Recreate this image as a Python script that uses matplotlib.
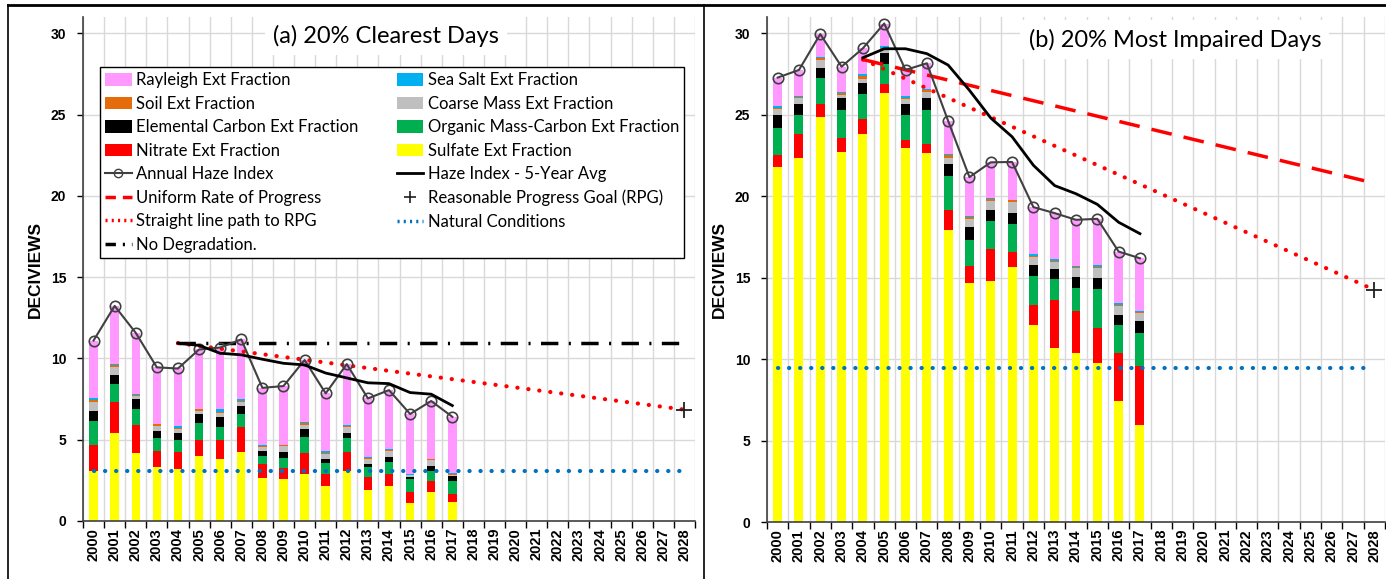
import matplotlib
matplotlib.use("Agg")
import matplotlib.pyplot as plt
from matplotlib.lines import Line2D
from matplotlib.patches import Patch

# Data
years = list(range(2000, 2018))
all_years = list(range(2000, 2029))

# (a) 20% clearest days - extinction fractions in deciviews
clear_sulfate = [3.07, 5.39, 4.16, 3.30, 3.18, 4.00, 3.81, 4.22, 2.62, 2.56, 2.89, 2.15, 3.07, 1.90, 2.15, 1.13, 1.80, 1.19]
clear_nitrate = [1.60, 1.94, 1.74, 1.02, 1.06, 0.98, 1.17, 1.58, 0.88, 0.68, 1.27, 0.74, 1.15, 0.82, 0.74, 0.67, 0.68, 0.47]
clear_omc = [1.46, 1.07, 0.98, 0.76, 0.74, 1.02, 0.82, 0.76, 0.50, 0.65, 0.98, 0.65, 0.86, 0.58, 0.76, 0.76, 0.61, 0.82]
clear_ec = [0.65, 0.60, 0.62, 0.47, 0.45, 0.58, 0.57, 0.53, 0.32, 0.37, 0.49, 0.27, 0.35, 0.20, 0.26, 0.16, 0.29, 0.29]
clear_coarse = [0.55, 0.47, 0.20, 0.32, 0.20, 0.21, 0.27, 0.21, 0.26, 0.36, 0.30, 0.30, 0.36, 0.29, 0.40, 0.08, 0.35, 0.09]
clear_soil = [0.10, 0.10, 0.08, 0.07, 0.07, 0.07, 0.08, 0.08, 0.05, 0.05, 0.07, 0.05, 0.07, 0.06, 0.05, 0.04, 0.06, 0.04]
clear_seasalt = [0.11, 0.08, 0.04, 0.03, 0.14, 0.04, 0.14, 0.10, 0.03, 0.03, 0.10, 0.14, 0.04, 0.10, 0.04, 0.03, 0.04, 0.03]
clear_rayleigh = [3.56, 3.58, 3.75, 3.48, 3.54, 3.65, 3.81, 3.69, 3.53, 3.60, 3.80, 3.55, 3.75, 3.59, 3.65, 3.71, 3.55, 3.48]
clear_haze = [11.10, 13.23, 11.57, 9.45, 9.38, 10.55, 10.67, 11.17, 8.19, 8.30, 9.90, 7.85, 9.65, 7.54, 8.05, 6.58, 7.38, 6.41]
clear_avg_years = list(range(2004, 2018))
clear_avg = [10.94, 10.80, 10.32, 10.22, 9.95, 9.70, 9.60, 9.10, 8.80, 8.50, 8.45, 7.90, 7.80, 7.10]
clear_baseline = 10.94
clear_rpg = 6.85
clear_natural = 3.07

# (b) 20% most impaired days
imp_sulfate = [21.78, 22.37, 24.89, 22.74, 23.80, 26.32, 22.94, 22.63, 17.93, 14.70, 14.80, 15.65, 12.10, 10.66, 10.39, 9.79, 7.41, 5.96]
imp_nitrate = [0.75, 1.43, 0.75, 0.82, 0.94, 0.57, 0.51, 0.56, 1.23, 1.04, 1.95, 0.90, 1.24, 2.94, 2.54, 2.14, 2.98, 3.60]
imp_omc = [1.68, 1.19, 1.60, 1.74, 1.52, 1.21, 1.54, 2.11, 2.10, 1.58, 1.75, 1.77, 1.75, 1.29, 1.44, 2.38, 1.71, 2.02]
imp_ec = [0.78, 0.65, 0.65, 0.70, 0.67, 0.67, 0.65, 0.75, 0.70, 0.78, 0.66, 0.67, 0.66, 0.62, 0.69, 0.68, 0.62, 0.77]
imp_coarse = [0.35, 0.36, 0.47, 0.20, 0.27, 0.28, 0.31, 0.33, 0.41, 0.50, 0.55, 0.64, 0.52, 0.45, 0.51, 0.58, 0.51, 0.47]
imp_soil = [0.06, 0.10, 0.14, 0.14, 0.18, 0.05, 0.10, 0.14, 0.16, 0.10, 0.12, 0.12, 0.08, 0.09, 0.10, 0.10, 0.10, 0.06]
imp_seasalt = [0.16, 0.03, 0.03, 0.03, 0.12, 0.10, 0.12, 0.03, 0.03, 0.09, 0.03, 0.03, 0.12, 0.08, 0.03, 0.10, 0.11, 0.08]
imp_rayleigh = [1.72, 1.62, 1.42, 1.58, 1.58, 1.40, 1.58, 1.61, 2.06, 2.38, 2.22, 2.32, 2.86, 2.83, 2.85, 2.84, 3.16, 3.23]
imp_haze = [27.28, 27.75, 29.95, 27.95, 29.08, 30.60, 27.75, 28.16, 24.62, 21.17, 22.08, 22.10, 19.33, 18.96, 18.55, 18.61, 16.60, 16.19]
imp_avg_years = list(range(2004, 2018))
imp_avg = [28.50, 29.05, 29.05, 28.75, 28.05, 26.50, 24.80, 23.65, 21.90, 20.65, 20.15, 19.50, 18.40, 17.70]
imp_baseline = 28.39
imp_urp_2028 = 20.80
imp_rpg = 14.25
imp_natural = 9.47

comp_names = ["Sulfate Ext Fraction", "Nitrate Ext Fraction", "Organic Mass-Carbon Ext Fraction",
              "Elemental Carbon Ext Fraction", "Coarse Mass Ext Fraction", "Soil Ext Fraction",
              "Sea Salt Ext Fraction", "Rayleigh Ext Fraction"]
comp_colors = ["#FFFF00", "#FF0000", "#00B050", "#000000", "#BFBFBF", "#E46C0A", "#00B0F0", "#FF99FF"]

TICK_FONT = "Liberation Sans"
TEXT_FONT = "Lato"

fig = plt.figure(figsize=(13.86, 5.79), dpi=100)
ax1 = fig.add_axes([83 / 1386, 58 / 579, 612 / 1386, 504 / 579])
ax2 = fig.add_axes([767 / 1386, 57 / 579, 618 / 1386, 505 / 579])


def draw_panel(ax, comps, haze, avg_years, avg, width):
    bottom = [0.0] * len(years)
    for vals, col in zip(comps, comp_colors):
        ax.bar(years, vals, width=width, bottom=bottom, color=col, zorder=2, linewidth=0)
        bottom = [b + v for b, v in zip(bottom, vals)]
    ax.plot(years, haze, color="#404040", lw=1.5, marker="o", ms=7.5, mfc="none",
            mec="#404040", mew=1.2, zorder=5)
    ax.plot(avg_years, avg, color="black", lw=2, zorder=5)

    ax.set_xlim(1999.5, 2028.5)
    ax.set_ylim(0, 31)
    ax.set_xticks(all_years)
    ax.set_xticklabels([str(y) for y in all_years], rotation=90, fontsize=10.5,
                       fontweight="bold", family=TICK_FONT)
    ax.set_xticks([y + 0.5 for y in [1999] + all_years], minor=True)
    ax.tick_params(axis="x", which="major", length=0, pad=5)
    ax.tick_params(axis="x", which="minor", length=5, width=1, direction="out")
    ax.set_yticks([0, 5, 10, 15, 20, 25, 30])
    ax.set_yticklabels(["0", "5", "10", "15", "20", "25", "30"], fontsize=10,
                       fontweight="bold", family=TICK_FONT)
    ax.tick_params(axis="y", length=4, width=1, direction="out", pad=8)
    ax.grid(axis="x", which="minor", color="#D9D9D9", lw=1, zorder=0)
    ax.grid(axis="y", which="major", color="#D9D9D9", lw=1, zorder=0)
    ax.set_axisbelow(True)
    for s in ["top", "right"]:
        ax.spines[s].set_visible(False)
    for s in ["left", "bottom"]:
        ax.spines[s].set_color("#404040")
        ax.spines[s].set_linewidth(1.2)
    ax.set_ylabel("DECIVIEWS", fontsize=12.5, fontweight="bold", family=TICK_FONT, labelpad=6)


# Panel (a)
draw_panel(ax1, [clear_sulfate, clear_nitrate, clear_omc, clear_ec, clear_coarse, clear_soil,
                 clear_seasalt, clear_rayleigh], clear_haze, clear_avg_years, clear_avg, 0.40)
ax1.plot([2004, 2028], [clear_baseline, clear_baseline], color="black", lw=2.5,
         linestyle=(0, (5, 3, 0.6, 3)), zorder=4)
ax1.plot([2004, 2028], [clear_baseline, clear_rpg], color="#FF0000", lw=3,
         linestyle=(0, (0.05, 2.6)), dash_capstyle="round", zorder=4)
ax1.plot([2000, 2028], [clear_natural, clear_natural], color="#0070C0", lw=3,
         linestyle=(0, (0.05, 2.6)), dash_capstyle="round", zorder=4)
ax1.plot([2028], [clear_rpg], marker="+", color="#202020", ms=11, mew=1.3, zorder=6)
ax1.text(0.495, 0.963, "(a) 20% Clearest Days", transform=ax1.transAxes, ha="center",
         va="center", fontsize=17, family=TEXT_FONT, zorder=7,
         bbox=dict(facecolor="white", edgecolor="none", pad=6))

# Panel (b)
draw_panel(ax2, [imp_sulfate, imp_nitrate, imp_omc, imp_ec, imp_coarse, imp_soil,
                 imp_seasalt, imp_rayleigh], imp_haze, imp_avg_years, imp_avg, 0.42)
ax2.plot([2004, 2028], [imp_baseline, imp_urp_2028], color="#FF0000", lw=2.5,
         linestyle=(0, (6, 3.5)), zorder=4)
ax2.plot([2004, 2028], [imp_baseline, imp_rpg], color="#FF0000", lw=3,
         linestyle=(0, (0.05, 2.6)), dash_capstyle="round", zorder=4)
ax2.plot([2000, 2028], [imp_natural, imp_natural], color="#0070C0", lw=3,
         linestyle=(0, (0.05, 2.6)), dash_capstyle="round", zorder=4)
ax2.plot([2028], [imp_rpg], marker="+", color="#202020", ms=11, mew=1.3, zorder=6,
         clip_on=False)
ax2.text(0.66, 0.955, "(b) 20% Most Impaired Days", transform=ax2.transAxes, ha="center",
         va="center", fontsize=17, family=TEXT_FONT, zorder=7,
         bbox=dict(facecolor="white", edgecolor="none", pad=6))

# Legend (row-major in reference, matplotlib fills columns)
def patch(i):
    return Patch(facecolor=comp_colors[i], edgecolor="none", label=comp_names[i])

h_haze = Line2D([], [], color="#404040", lw=1.5, marker="o", ms=6, mfc="none", label="Annual Haze Index")
h_avg = Line2D([], [], color="black", lw=2, label="Haze Index - 5-Year Avg")
h_urp = Line2D([], [], color="#FF0000", lw=2.5, linestyle=(0, (3, 2)), label="Uniform Rate of Progress")
h_rpg = Line2D([], [], color="#202020", lw=0, marker="+", ms=9, mew=1.2, label="Reasonable Progress Goal (RPG)")
h_str = Line2D([], [], color="#FF0000", lw=2.5, linestyle=(0, (0.6, 1.2)), label="Straight line path to RPG")
h_nat = Line2D([], [], color="#0070C0", lw=2.5, linestyle=(0, (0.6, 1.2)), label="Natural Conditions")
h_nod = Line2D([], [], color="black", lw=2.5, linestyle=(0, (3, 2, 0.6, 2)), label="No Degradation.")

col1 = [patch(7), patch(5), patch(3), patch(1), h_haze, h_urp, h_str, h_nod]
col2 = [patch(6), patch(4), patch(2), patch(0), h_avg, h_rpg, h_nat]
leg = ax1.legend(handles=col1 + col2, ncol=2, loc="upper left", bbox_to_anchor=(0.028, 0.900),
                 prop={"family": TEXT_FONT, "size": 12}, frameon=True, fancybox=False,
                 edgecolor="black", framealpha=1, handlelength=1.6, handleheight=0.8,
                 handletextpad=0.25, columnspacing=2.3, labelspacing=0.45, borderpad=0.3,
                 borderaxespad=0)
leg.get_frame().set_linewidth(1.0)
leg.set_zorder(8)

# Chart frames
fig.add_artist(Line2D([8 / 1386, 1], [1 - 5 / 579, 1 - 5 / 579], color="black", lw=2))
fig.add_artist(Line2D([8 / 1386, 8 / 1386], [0, 1 - 5 / 579], color="black", lw=1.2))
fig.add_artist(Line2D([704 / 1386, 704 / 1386], [0, 1 - 5 / 579], color="black", lw=1.2))

fig.savefig("out.png", dpi=100)
